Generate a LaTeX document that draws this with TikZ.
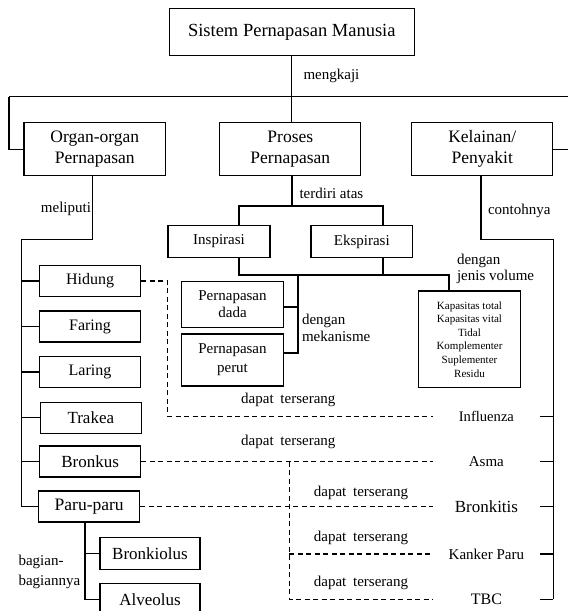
\documentclass[tikz,border=0pt]{standalone}
\usepackage{fontspec}
\setmainfont{Liberation Serif}
\newcommand\fsz[2]{\fontsize{#1pt}{#2pt}\selectfont}
\begin{document}
\begin{tikzpicture}[x=1pt,y=-1pt, line width=1.1pt,
  box/.style={draw, inner sep=0pt, align=center},
  bigbox/.style={box, minimum width=141pt, minimum height=53pt, font=\fsz{17.5}{21}},
  midbox/.style={box, minimum width=102pt, minimum height=31.4pt, font=\fsz{15}{18}},
  orgbox/.style={box, minimum width=101pt, minimum height=31pt},
  lab/.style={inner sep=0pt, font=\fsz{15}{17}},
  dis/.style={inner sep=0pt, minimum width=105.8pt, minimum height=14pt},
  dsh/.style={dash pattern=on 5pt off 3.5pt}]
\useasboundingbox (0,0) rectangle (568,611);
\clip (0,0) rectangle (568,611);

% top level
\node[box, minimum width=244.5pt, minimum height=47.4pt, font=\fsz{18.5}{22}] (top) at (291.8,32) {Sistem Pernapasan Manusia};
\node[bigbox, minimum width=141.6pt] (organ) at (94.8,149.2) {Organ-organ\\Pernapasan};
\node[bigbox] (proses) at (290.3,149.2) {Proses\\Pernapasan};
\node[bigbox] (kelainan) at (482.3,149.2) {Kelainan/\\Penyakit};

\node[lab, anchor=west] (mengkaji) at (303,76) {mengkaji};
\coordinate (hl) at (9,96.7);
\coordinate (hr) at (575,96.7);
\draw (top.south) -- (top.south |- proses.north);
\draw (hl) -- (hr);
\draw (hl) |- (organ.west);
\draw (hr) |- (kelainan.east);

% process branch
\node[midbox] (inspirasi) at (219,241.6) {Inspirasi};
\node[midbox, minimum width=101.7pt] (ekspirasi) at (361.8,241.6) {Ekspirasi};
\node[lab, anchor=west] (terdiri) at (299,193) {terdiri atas};
\coordinate (pj) at (292,206);
\coordinate (ij) at (239,206);
\coordinate (ej) at (383,206);
\draw (proses.south -| pj) -- (pj);
\draw (inspirasi.north -| ij) -- (ij) -- (ej) -- (ekspirasi.north -| ej);

\node[box, minimum width=101.6pt, minimum height=46.3pt, font=\fsz{15}{16.5}] (dada) at (232.5,304.2) {Pernapasan\\dada};
\node[box, minimum width=101.6pt, minimum height=52pt, font=\fsz{15}{19}] (perut) at (232.5,360) {Pernapasan\\perut};
\node[box, minimum width=102.4pt, minimum height=96.7pt, font=\fsz{11}{13.6}] (kapasitas) at (469.5,339.3) {Kapasitas total\\Kapasitas vital\\Tidal\\Komplementer\\Suplementer\\Residu};
\node[lab, anchor=west, align=left] (mekanisme) at (301.5,327.5) {dengan\\mekanisme};
\node[lab, anchor=west, align=left, font=\fsz{15}{16}] (jenis) at (456.5,269) {dengan\\jenis volume};

\coordinate (ib) at (239,275);
\coordinate (eb) at (383,275);
\coordinate (kb) at (449,275);
\coordinate (mb) at (298,275);
\coordinate (md) at (298,307);
\coordinate (mp) at (298,353);
\draw (inspirasi.south -| ib) -- (ib) -- (kb) -- (kb |- kapasitas.north);
\draw (ekspirasi.south -| eb) -- (eb);
\draw (mb) -- (mp) -- (mp -| perut.east);
\draw (md) -- (md -| dada.east);

% organs
\node[orgbox, font=\fsz{16}{18}] (hidung) at (90,281) {Hidung};
\node[orgbox, font=\fsz{16}{18}] (faring) at (90,326.5) {Faring};
\node[orgbox, font=\fsz{16}{18}] (laring) at (90,372) {Laring};
\node[orgbox, font=\fsz{17}{19}] (trakea) at (90.8,417.8) {Trakea};
\node[orgbox, font=\fsz{17}{19}] (bronkus) at (90.2,461.5) {Bronkus};
\node[orgbox, font=\fsz{17.5}{19}] (paru) at (89.2,506.5) {Paru-paru};
\node[orgbox, minimum width=100pt, minimum height=31.6pt, font=\fsz{17}{19}] (bronkiolus) at (150,553.5) {Bronkiolus};
\node[orgbox, minimum width=100pt, minimum height=32pt, font=\fsz{17}{19}] (alveolus) at (150,599.5) {Alveolus};
\node[lab, anchor=east] (meliputi) at (91.5,209) {meliputi};
\node[lab, anchor=west, align=left, font=\fsz{15}{19.7}] (bagian) at (18,572) {bagian-\\bagiannya};

\coordinate (ov) at (92.5,239.3);
\coordinate (lv) at (21.7,239.3);
\draw (organ.south -| ov) -- (ov) -- (lv) |- (paru.west);
\foreach \n in {hidung,faring,laring,trakea,bronkus}
  \draw (lv |- \n.west) -- (\n.west);
\coordinate (pv) at (85,530);
\draw (paru.south -| pv) |- (alveolus.west);
\draw (pv |- bronkiolus.west) -- (bronkiolus.west);

% diseases
\node[dis, font=\fsz{14.6}{17}] (influenza) at (486.4,416.5) {Influenza};
\node[dis, font=\fsz{15}{17}] (asma) at (486.4,461.5) {Asma};
\node[dis, font=\fsz{17}{19}] (bronkitis) at (486.4,506.5) {Bronkitis};
\node[dis, font=\fsz{15}{17}] (kanker) at (486.4,554) {Kanker Paru};
\node[dis, font=\fsz{16}{18}] (tbc) at (486.4,599.3) {TBC};
\node[lab, anchor=west] (contoh) at (487.5,211) {contohnya};

\coordinate (kj) at (481,239.3);
\coordinate (rv) at (553.3,239.3);
\draw (kelainan.south -| kj) -- (kj) -- (rv) -- (rv |- tbc.east);
\foreach \n in {influenza,asma,bronkitis,kanker,tbc}
  \draw (\n.east) -- (rv |- \n.east);

% dashed links
\node[lab] (d1) at (288.3,400) {dapat\hspace{3pt} terserang};
\node[lab] (d2) at (288.3,442.3) {dapat\hspace{3pt} terserang};
\node[lab] (d3) at (361,493.3) {dapat\hspace{3pt} terserang};
\node[lab] (d4) at (361,538.3) {dapat\hspace{3pt} terserang};
\node[lab] (d5) at (361,583.3) {dapat\hspace{3pt} terserang};

\coordinate (hx) at (167.7,350);
\draw[dsh] (hidung.east) -| (hx) |- (influenza.west);
\draw[dsh] (bronkus.east) -- (asma.west);
\draw[dsh] (paru.east) -- (bronkitis.west);
\coordinate (dv) at (289.3,461.5);
\draw[dsh] (dv) |- (tbc.west);
\draw[dsh] (dv |- kanker.west) -- (kanker.west);
\end{tikzpicture}
\end{document}
